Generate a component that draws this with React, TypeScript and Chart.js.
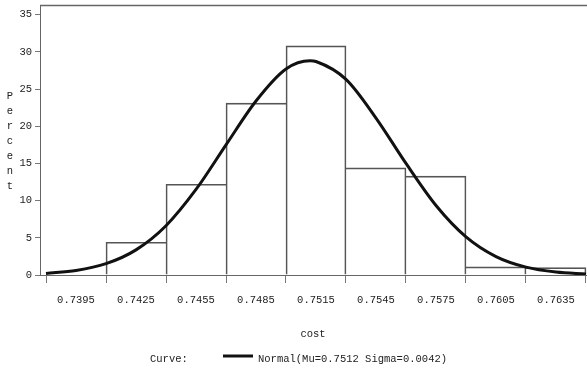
import React, { useEffect, useRef } from "react";
import { Chart, registerables } from "chart.js";

Chart.register(...registerables);

// Histogram bins (midpoints) and percent heights
const binCenters = [0.7425, 0.7455, 0.7485, 0.7515, 0.7545, 0.7575, 0.7605, 0.7635];
const binPercents = [4.4, 12.2, 23.1, 30.8, 14.4, 13.3, 1.1, 1.0];

// Fitted normal curve
const curveX = [0.738, 0.7395, 0.741, 0.7425, 0.744, 0.7455, 0.747, 0.7485, 0.75, 0.7512, 0.7515, 0.753, 0.7545, 0.756, 0.7575, 0.759, 0.7605, 0.762, 0.7635, 0.765];
const curveY = [0.21, 0.6, 1.52, 3.38, 6.63, 11.5, 17.5, 23.4, 27.7, 28.8, 28.7, 26.3, 21.1, 15.0, 9.35, 5.13, 2.48, 1.06, 0.39, 0.13];

const xTicks = [0.7395, 0.7425, 0.7455, 0.7485, 0.7515, 0.7545, 0.7575, 0.7605, 0.7635];
const yTicks = [0, 5, 10, 15, 20, 25, 30, 35];

const yTitle = "Percent";
const xTitle = "cost";
const legendLead = "Curve:";
const legendLabel = "Normal(Mu=0.7512 Sigma=0.0042)";

const FONT = '"Liberation Mono", "DejaVu Sans Mono", monospace';
const FS = 10.5;
const TEXT = "#222";

const decorPlugin = {
  id: "decor",
  afterDraw(chart: any) {
    const { ctx, chartArea } = chart;
    ctx.save();
    // top frame line
    ctx.strokeStyle = "#666";
    ctx.lineWidth = 1.5;
    ctx.beginPath();
    ctx.moveTo(chartArea.left, chartArea.top + 0.5);
    ctx.lineTo(chartArea.right, chartArea.top + 0.5);
    ctx.stroke();

    ctx.fillStyle = TEXT;
    ctx.font = `${FS}px ${FONT}`;
    ctx.textAlign = "center";
    ctx.textBaseline = "middle";
    // vertical stacked y title
    yTitle.split("").forEach((ch, i) => {
      ctx.fillText(ch, 10, 96 + i * 15);
    });
    // x title
    ctx.fillText(xTitle, 313, 334);

    // legend
    ctx.textAlign = "left";
    ctx.fillText(legendLead, 150, 359);
    ctx.strokeStyle = "#111";
    ctx.lineWidth = 3;
    ctx.beginPath();
    ctx.moveTo(223, 356);
    ctx.lineTo(253, 356);
    ctx.stroke();
    ctx.fillText(legendLabel, 258, 359);
    ctx.restore();
  },
};

export default function App() {
  const canvasRef = useRef<HTMLCanvasElement | null>(null);

  useEffect(() => {
    document.body.style.margin = "0";
    const canvas = canvasRef.current;
    if (!canvas) return;
    const n = binPercents.length;
    const chart = new Chart(canvas, {
      type: "bar",
      data: {
        datasets: [
          {
            type: "line",
            data: curveX.map((x, i) => ({ x, y: curveY[i] })),
            borderColor: "#111",
            borderWidth: 3,
            pointRadius: 0,
            fill: false,
            cubicInterpolationMode: "monotone",
            order: 0,
          } as any,
          {
            type: "bar",
            data: binCenters.map((x, i) => ({ x, y: binPercents[i] })),
            backgroundColor: "rgba(255,255,255,0)",
            borderColor: "#555",
            borderWidth: (c: any) => {
              const i = c.dataIndex;
              const cur = binPercents[i];
              const prev = i > 0 ? binPercents[i - 1] : -1;
              const next = i < n - 1 ? binPercents[i + 1] : -1;
              return {
                top: 1,
                left: prev < cur ? 1 : 0,
                right: next < cur ? 1 : 0,
                bottom: 0,
              };
            },
            borderSkipped: false,
            barPercentage: 1,
            categoryPercentage: 1,
            grouped: false,
            order: 1,
          } as any,
        ],
      },
      options: {
        animation: false,
        responsive: false,
        devicePixelRatio: 1,
        layout: { padding: { top: 5, left: 0, right: 0, bottom: 0 } },
        plugins: {
          legend: { display: false },
          tooltip: { enabled: false },
        },
        scales: {
          x: {
            type: "linear",
            offset: false,
            min: 0.7377,
            max: 0.76505,
            afterBuildTicks: (scale: any) => {
              scale.ticks = xTicks.map((v) => ({ value: v }));
            },
            afterFit: (scale: any) => {
              scale.height = 98;
            },
            ticks: {
              autoSkip: false,
              maxRotation: 0,
              padding: 11,
              color: TEXT,
              font: { family: FONT, size: FS },
              callback: (v: any) => Number(v).toFixed(4),
            },
            grid: {
              display: true,
              drawOnChartArea: false,
              drawTicks: true,
              tickLength: 8,
              color: "#777",
            },
            border: { display: true, color: "#666", width: 1 },
          },
          y: {
            type: "linear",
            min: 0,
            max: 36.3,
            afterBuildTicks: (scale: any) => {
              scale.ticks = yTicks.map((v) => ({ value: v }));
            },
            afterFit: (scale: any) => {
              scale.width = 40;
              scale.paddingTop = 0;
            },
            ticks: {
              padding: 3,
              color: TEXT,
              font: { family: FONT, size: FS },
            },
            grid: {
              display: true,
              drawOnChartArea: false,
              drawTicks: true,
              tickLength: 5,
              color: "#777",
            },
            border: { display: true, color: "#666", width: 1 },
          },
        },
      },
      plugins: [decorPlugin],
    });
    return () => chart.destroy();
  }, []);

  return (
    <div style={{ position: "absolute", left: 0, top: 0, width: 587, height: 373, background: "#fff" }}>
      <canvas ref={canvasRef} width={587} height={373} style={{ display: "block" }} />
    </div>
  );
}
